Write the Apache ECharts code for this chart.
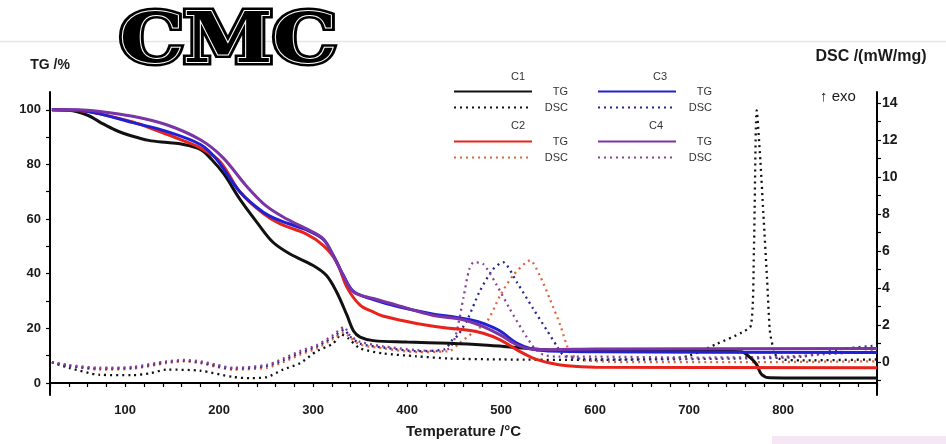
<!DOCTYPE html>
<html>
<head>
<meta charset="utf-8">
<script src="https://cdn.jsdelivr.net/npm/echarts@6/dist/echarts.min.js"></script>
<style>
  html, body { margin: 0; padding: 0; background: #fff; }
  #chart { width: 946px; height: 444px; }
</style>
</head>
<body>
<div id="chart"></div>
<script>
// Thermogravimetry (TG, %) and DSC (mW/mg) of CMC samples C1–C4 vs temperature (°C)

const tempLabels = [100, 200, 300, 400, 500, 600, 700, 800];
const tgLabels = [0, 20, 40, 60, 80, 100];
const dscLabels = [0, 2, 4, 6, 8, 10, 12, 14];

// TG curves: [temperature, mass %]
const tgC1 = [[22,100],[40,99.8],[60,98],[73,95.5],[90,92.5],[108,90.3],[125,88.8],[145,88],[161,87.4],[180,85.5],[192,81.8],[205,76.5],[222,67.3],[240,58.9],[257,51.6],[275,47.3],[300,43],[314,39.4],[325,33.3],[336,24.8],[343,19],[350,16.8],[364,15.5],[400,15],[445,14.5],[481,13.9],[517,13],[552,12.1],[600,11.8],[700,11.7],[755,11.4],[766,9],[772,6.7],[777,3.2],[786,1.9],[820,1.8],[900,1.8]];
const tgC2 = [[22,100],[50,99.7],[73,98.5],[108,95.5],[133,92.5],[161,88.8],[180,86],[201,81],[222,70],[247,62],[265,58.2],[293,54.5],[311,50.3],[325,44.3],[336,35],[350,28.5],[364,26],[374,24.5],[410,21.8],[445,20],[463,19.4],[481,18.2],[499,15.8],[517,12.1],[534,9.1],[552,7.3],[570,6.3],[600,5.8],[900,5.6]];
const tgC3 = [[22,100],[50,99.8],[73,98.5],[108,95.3],[144,92.1],[180,87.3],[197,82],[222,70],[247,62.5],[265,59.4],[293,56],[311,52.5],[321,47],[332,39.5],[343,33.5],[364,30.5],[392,27.8],[427,25.3],[453,24],[467,23.2],[481,21.8],[499,19],[517,14.5],[534,12.3],[552,11.7],[600,11.4],[900,11.2]];
const tgC4 = [[22,100],[50,100],[73,99.4],[108,97.6],[144,94.5],[180,89],[204,82.5],[229,72.1],[250,64.8],[272,60],[293,56.4],[311,52.7],[321,46.7],[332,39.4],[343,33.3],[364,30.9],[389,28.5],[427,24.8],[453,23.6],[467,22.4],[481,20.6],[499,17.6],[517,13.9],[534,12.3],[552,12.2],[600,12.4],[900,12.6]];

// DSC curves: [temperature, mW/mg]
const dscC1 = [[22,0],[40,-0.3],[73,-0.68],[108,-0.7],[126,-0.6],[144,-0.4],[180,-0.46],[215,-0.8],[233,-0.86],[251,-0.8],[268,-0.4],[286,-0.05],[304,0.6],[321,1.0],[330,1.5],[337,1.3],[350,0.75],[374,0.48],[410,0.32],[445,0.2],[500,0.15],[600,0.12],[680,0.2],[700,0.35],[730,1.0],[756,1.6],[766,2.0],[769,6],[772,13.6],[776,10.8],[779,8.1],[783,4.5],[786,1.7],[789,0.9],[795,0.2],[820,0.1],[900,0.15]];
const dscC2 = [[22,0],[40,-0.2],[73,-0.4],[108,-0.35],[144,-0.05],[162,0.05],[180,-0.05],[197,-0.25],[215,-0.4],[251,-0.3],[268,0],[286,0.4],[304,0.75],[321,1.25],[333,1.6],[339,1.35],[350,0.95],[374,0.75],[410,0.55],[445,0.6],[455,1.0],[470,1.6],[485,2.2],[499,3.6],[513,4.7],[531,5.5],[541,4.7],[552,3.4],[563,2.0],[570,0.9],[575,0.4],[590,0.1],[650,0],[750,0],[900,0.05]];
const dscC3 = [[22,0],[40,-0.2],[73,-0.35],[108,-0.3],[144,0],[162,0.08],[180,0],[197,-0.2],[215,-0.35],[251,-0.2],[268,0.1],[286,0.5],[304,0.85],[321,1.35],[333,1.75],[339,1.4],[350,1.0],[374,0.8],[410,0.6],[440,0.7],[448,1.2],[454,1.45],[465,2.4],[477,3.8],[491,5.0],[502,5.4],[517,4.3],[534,2.9],[549,1.7],[559,0.9],[566,0.4],[580,0.2],[650,0.15],[750,0.2],[820,0.3],[860,0.7],[900,0.9]];
const dscC4 = [[22,0],[40,-0.15],[73,-0.3],[108,-0.25],[144,0.05],[162,0.12],[180,0.05],[197,-0.14],[215,-0.3],[251,-0.14],[268,0.2],[286,0.6],[304,0.93],[321,1.46],[333,1.9],[339,1.45],[350,1.1],[374,0.86],[410,0.65],[438,0.6],[446,0.8],[452,1.5],[460,3.5],[466,5.0],[471,5.4],[481,5.3],[495,4.2],[509,2.9],[523,1.7],[535,0.8],[545,0.4],[560,0.3],[600,0.3],[700,0.25],[800,0.3],[850,0.45],[900,0.6]];

const samples = ['C1', 'C2', 'C3', 'C4'];
const tgColors = ['#111111', '#e8231c', '#2020d4', '#7b34a6'];
const dscColors = ['#111111', '#e0673f', '#26288e', '#8a4296'];
const tgData = [tgC1, tgC2, tgC3, tgC4];
const dscData = [dscC1, dscC2, dscC3, dscC4];

const FONT = '"Liberation Sans", Arial, sans-serif';
const ink = '#1a1a1a';

function steps(from, to, step) {
  const out = [];
  for (let v = from; v <= to + 1e-9; v += step) out.push(+v.toFixed(3));
  return out;
}

const series = [];
samples.forEach((s, i) => {
  series.push({
    name: s + ' DSC', type: 'line', yAxisIndex: 1, data: dscData[i],
    symbol: 'none', smooth: 0.25, z: 2,
    lineStyle: { color: dscColors[i], width: 2.3, type: [2, 4] },
    itemStyle: { color: dscColors[i] }
  });
});
samples.forEach((s, i) => {
  series.push({
    name: s + ' TG', type: 'line', yAxisIndex: 0, data: tgData[i],
    symbol: 'none', smooth: 0.35, z: 3,
    lineStyle: { color: tgColors[i], width: 3 },
    itemStyle: { color: tgColors[i] }
  });
});

// one small legend block per sample: solid TG line, dotted DSC line
const legendPos = [
  { left: 453, top: 86 }, { left: 453, top: 136 },
  { left: 597, top: 86 }, { left: 597, top: 136 }
];
const legends = samples.map((s, i) => ({
  data: [s + ' TG', s + ' DSC'],
  orient: 'vertical',
  left: legendPos[i].left, top: legendPos[i].top,
  padding: 0, itemGap: 5, itemWidth: 78, itemHeight: 12,
  selectedMode: false,
  itemStyle: { opacity: 0 },
  formatter: n => '{r|' + n.split(' ')[1] + '}',
  textStyle: {
    fontFamily: FONT, fontSize: 11, color: '#333',
    rich: { r: { width: 31, align: 'right', fontFamily: FONT, fontSize: 11, color: '#333' } }
  }
}));

const headerPos = [[518, 77], [518, 126], [660, 77], [656, 126]];

const chart = echarts.init(document.getElementById('chart'), null, { renderer: 'canvas' });
chart.setOption({
  animation: false,
  backgroundColor: '#fff',
  grid: { left: 50, right: 69, top: 92, bottom: 47 },
  legend: legends,
  xAxis: {
    type: 'value', min: 20, max: 900,
    name: 'Temperature /°C', nameLocation: 'middle', nameGap: 29,
    nameTextStyle: { fontFamily: FONT, fontSize: 15, fontWeight: 'bold', color: ink },
    axisLine: { lineStyle: { color: '#000', width: 2 } },
    axisTick: { customValues: steps(20, 900, 20), length: 4, lineStyle: { color: '#000', width: 1.2 } },
    axisLabel: { customValues: tempLabels, margin: 9, fontFamily: FONT, fontSize: 13, fontWeight: 'bold', color: ink },
    splitLine: { show: false }
  },
  yAxis: [
    {
      type: 'value', min: -4.4, max: 106.5, position: 'left',
      name: 'TG /%', nameLocation: 'end', nameGap: 20,
      nameTextStyle: { fontFamily: FONT, fontSize: 14, fontWeight: 'bold', color: ink, align: 'center' },
      axisLine: { show: true, lineStyle: { color: '#000', width: 2 } },
      axisTick: { show: true, customValues: steps(0, 100, 10), length: 4, lineStyle: { color: '#000', width: 1.2 } },
      axisLabel: { customValues: tgLabels, margin: 9, fontFamily: FONT, fontSize: 13, fontWeight: 'bold', color: ink },
      splitLine: { show: false }
    },
    {
      type: 'value', min: -1.77, max: 14.59, position: 'right',
      name: 'DSC /(mW/mg)', nameLocation: 'end', nameGap: 27,
      nameTextStyle: { fontFamily: FONT, fontSize: 16, fontWeight: 'bold', color: ink, align: 'center', padding: [0, 0, 0, -12] },
      axisLine: { show: true, lineStyle: { color: '#000', width: 2 } },
      axisTick: { show: true, customValues: steps(-1, 14, 1), length: 4, lineStyle: { color: '#000', width: 1.2 } },
      axisLabel: { customValues: dscLabels, margin: 5, fontFamily: FONT, fontSize: 14, fontWeight: 'bold', color: ink },
      splitLine: { show: false }
    }
  ],
  series: series,
  graphic: [
    { type: 'line', z: 0, shape: { x1: 0, y1: 41.5, x2: 946, y2: 41.5 }, style: { stroke: '#e6e6e6', lineWidth: 1.5 } },
    { type: 'rect', z: 0, shape: { x: 772, y: 436, width: 174, height: 8 }, style: { fill: '#f5e8f4' } },
    // title with engraved look: heavy black outline + thin white inline
    { type: 'text', z: 10, x: 228, y: 44, scaleX: 1.15,
      style: { text: 'CMC', font: 'bold 70px "DejaVu Serif", serif', textAlign: 'center', textVerticalAlign: 'middle',
        fill: '#000', stroke: '#000', lineWidth: 7,
        shadowColor: 'rgba(0,0,0,0.45)', shadowBlur: 4, shadowOffsetX: 3, shadowOffsetY: 3 } },
    { type: 'text', z: 11, x: 228, y: 44, scaleX: 1.15,
      style: { text: 'CMC', font: 'bold 70px "DejaVu Serif", serif', textAlign: 'center', textVerticalAlign: 'middle',
        fill: '#000', stroke: '#fff', lineWidth: 1.8 } },
    { type: 'text', z: 10, x: 820, y: 97,
      style: { text: '↑ exo', font: '15px ' + FONT, fill: ink, textVerticalAlign: 'middle' } }
  ].concat(samples.map((s, i) => ({
    type: 'text', z: 10, x: headerPos[i][0], y: headerPos[i][1],
    style: { text: s, font: '11px ' + FONT, fill: '#333', textAlign: 'center', textVerticalAlign: 'middle' }
  })))
});
</script>
</body>
</html>
